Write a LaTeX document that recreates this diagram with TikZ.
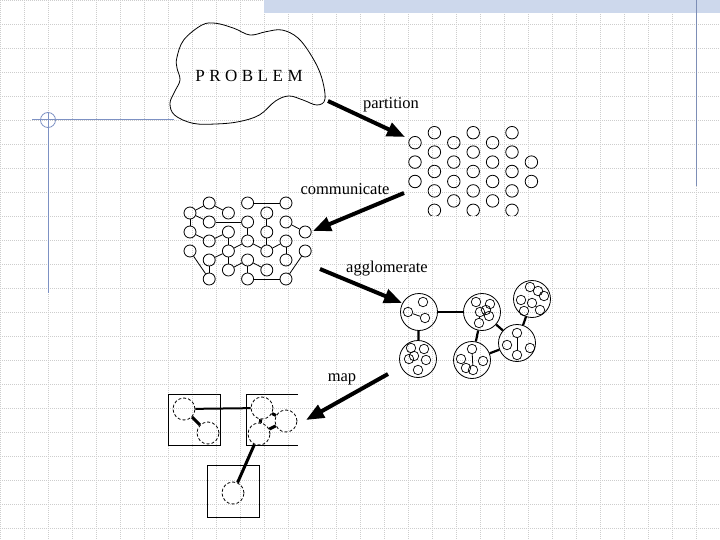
\documentclass[tikz,border=0pt]{standalone}
\usepackage{fontspec}
\setmainfont{Liberation Serif}
\usetikzlibrary{arrows.meta}

\definecolor{gridgray}{RGB}{205,205,205}
\definecolor{slideblue}{RGB}{125,145,195}
\definecolor{bandblue}{RGB}{205,216,236}

\tikzset{
  cell/.style={circle,draw,line width=0.8pt,inner sep=0pt,minimum size=12.5pt},
  blob/.style={circle,draw,line width=0.8pt,inner sep=0pt,minimum size=37pt},
  speck/.style={circle,draw,line width=0.7pt,inner sep=0pt,minimum size=9.5pt},
  task/.style={circle,draw,line width=0.8pt,densely dashed,inner sep=0pt,minimum size=22pt},
  bigarrow/.style={line width=4pt,-{Triangle[length=18pt,width=14pt]}},
  link/.style={line width=2.2pt},
  wire/.style={line width=0.8pt},
  steplabel/.style={font=\fontsize{16.5}{18}\selectfont,inner sep=0pt},
}

\begin{document}
\begin{tikzpicture}[x=1pt,y=-1pt]
  \useasboundingbox (0,0) rectangle (720,540);

  % slide background
  \foreach \g in {0,24,...,720}
    \draw[gridgray,line width=0.4pt,dash pattern=on 0.8pt off 1.2pt] (\g,0) -- (\g,540);
  \foreach \g in {0,24,...,528}
    \draw[gridgray,line width=0.4pt,dash pattern=on 0.8pt off 1.2pt] (0,\g) -- (720,\g);
  \fill[bandblue] (264,0) rectangle (720,13);
  \draw[slideblue!80!gray,line width=1pt] (696,0) -- (696,186);
  \draw[slideblue,line width=1pt] (32,120) -- (174,120);
  \draw[slideblue,line width=1pt] (48,112) -- (48,293);
  \draw[slideblue,line width=0.8pt] (48,120) circle (7.5);

  % problem
  \draw[line width=0.8pt] plot[smooth cycle,tension=0.6] coordinates {
    (176.8,58) (183.7,40) (202,25) (216,23.3) (234,28.3) (250,35) (266,31.7)
    (282,30) (298,38) (312,56.7) (321.4,76.7) (325,99) (317,105) (303,100)
    (289,96) (275.5,101) (259.4,115) (238.8,121.7) (215.8,124) (192.8,123.3)
    (174.5,115) (170,103.3) (174.5,92) (180,80) (177,68)};
  \node[font=\fontsize{17}{18}\selectfont] (problem) at (249,76)
    {P\kern4.5pt R\kern4.5pt O\kern4.5pt B\kern4.5pt L\kern4.5pt E\kern4.5pt M};

  % partition
  \coordinate (partA) at (328,101);
  \coordinate (partB) at (405,137);
  \draw[bigarrow] (partA) -- (partB);
  \node[steplabel] (partlbl) at (391,105) {partition};

  \begin{scope}
    \clip (395,120) rectangle (560,215.5);
    \foreach \i/\off/\ka/\kb in {0/10/0/2,1/0/0/4,2/10/0/3,3/0/0/4,4/10/0/3,5/0/0/4,6/10/1/2}
      \foreach \k in {\ka,...,\kb}
        \node[cell] (p\i\k) at ({415+19.4*\i},{132.7+\off+19.4*\k}) {};
  \end{scope}

  % communicate
  \coordinate (commA) at (404,193);
  \coordinate (commB) at (313,231);
  \draw[bigarrow] (commA) -- (commB);
  \node[steplabel] (commlbl) at (345,189) {communicate};

  \foreach \i/\off/\ka/\kb in {0/10/0/2,1/0/0/4,2/10/0/3,3/0/0/4,4/10/0/3,5/0/0/4,6/10/1/2}
    \foreach \k in {\ka,...,\kb}
      \node[cell,minimum size=12pt] (c\i\k) at ({190+19.2*\i},{203+\off+19*\k}) {};
  \foreach \a/\b in {c00/c10,c00/c11,c00/c01,c01/c12,c02/c14,c13/c14,c11/c31,
                     c10/c20,c12/c21,c21/c22,c22/c13,c22/c32,c22/c23,c23/c33,
                     c30/c50,c31/c32,c32/c42,c33/c34,c33/c43,c34/c54,c40/c41,
                     c41/c42,c51/c61,c52/c53,c42/c52,c62/c54}
    \draw[wire] (\a) -- (\b);

  % agglomerate
  \coordinate (aggA) at (320,269);
  \coordinate (aggB) at (402,303);
  \draw[bigarrow] (aggA) -- (aggB);
  \node[steplabel] (agglbl) at (387,269) {agglomerate};

  \node[blob] (K1) at (419,312) {};
  \node[blob] (K2) at (418,359) {};
  \node[blob] (K3) at (482,312) {};
  \node[blob] (K4) at (472,360) {};
  \node[blob] (K5) at (517,343) {};
  \node[blob] (K6) at (532,299) {};
  \foreach \c/\offs in {K1/{4/-10,-11/0,6/6},
                        K2/{-7/-11,6/-10,-9/0,8/1,0/11,-4/-3},
                        K3/{-6/-10,8/-8,-2/0,7/4,-3/11,4/-2},
                        K4/{0/-11,-11/-1,11/1,1/10,-6/8},
                        K5/{0/-10,-10/2,13/5,0/12},
                        K6/{-2/-12,-11/1,12/-3,0/4,-8/12,8/11,6/-8}}
    \foreach \dx/\dy [count=\n] in \offs
      \node[speck] (\c-\n) at ([shift={(\dx,\dy)}]\c) {};
  \draw[wire] (K1-2) -- (K1-3);
  \draw[wire] (K5-1) -- (K5-4);
  \draw[wire] (K3-3) -- (K3-5);
  \draw[wire] (K4-1) -- (K4-4);
  \draw[link,line width=2pt] (K1) -- (K3);
  \draw[link] (K1) -- (K2);
  \draw[link] (K3) -- (K4);
  \draw[link] (K3) -- (K5);
  \draw[link] (K4) -- (K5);
  \draw[link] (K5) -- (K6);

  % map
  \coordinate (mapA) at (388,374);
  \coordinate (mapB) at (306,420);
  \draw[bigarrow] (mapA) -- (mapB);
  \node[steplabel] (maplbl) at (342,379) {map};

  \draw[wire] (168,394) rectangle (220,445);
  \draw[wire] (298,394) -- (246,394) -- (246,445) -- (298,445);
  \draw[wire] (207,465) rectangle (259,517);
  \node[task] (m1) at (184,409) {};
  \node[task] (m2) at (208,433) {};
  \node[task] (m3) at (262,408) {};
  \node[task] (m4) at (286,421) {};
  \node[task] (m5) at (259,434) {};
  \node[task] (m6) at (233,493) {};
  \draw[link,line width=2pt] (m1) -- (m3);
  \draw[link,line width=3pt] (m1) -- (m2);
  \draw[link,line width=3pt] (m3) -- (m5);
  \draw[link,line width=3pt] (m3) -- (m4);
  \draw[link,line width=3pt] (m5) -- (m4);
  \draw[link,line width=3pt] (m5) -- (m6);
\end{tikzpicture}
\end{document}
